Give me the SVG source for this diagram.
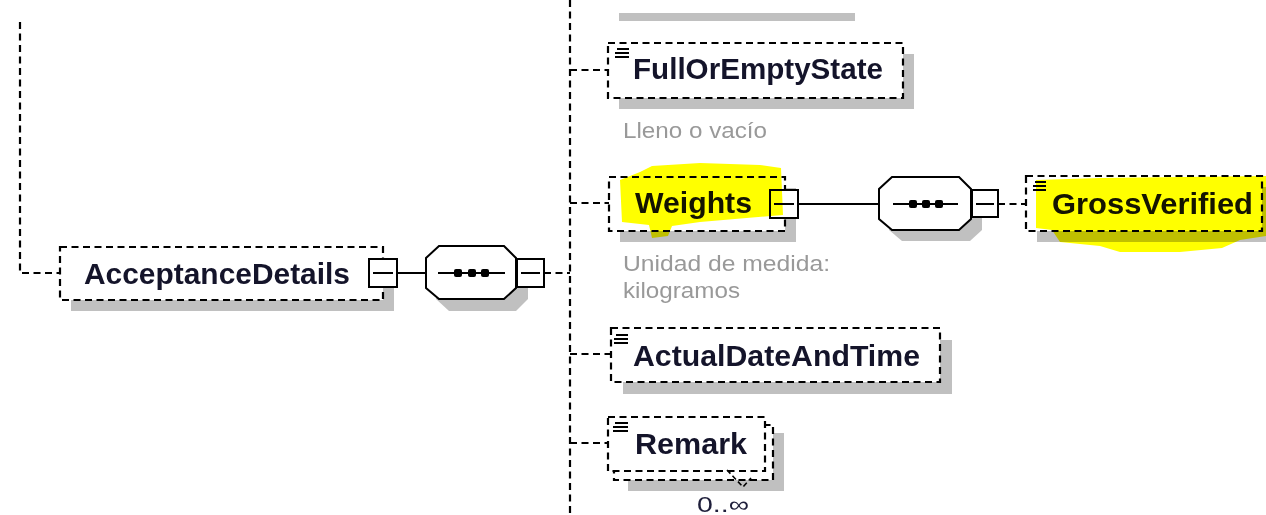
<svg xmlns="http://www.w3.org/2000/svg" width="1266" height="515" viewBox="0 0 1266 515">
<style>
.bg{fill:#ffffff}
.dash{fill:none;stroke:#000;stroke-width:2.2;stroke-dasharray:7 4.5}
.box{fill:#ffffff;stroke:#000;stroke-width:2.2;stroke-dasharray:7 4.5}
.shadow{fill:#c0c0c0}
.solid{fill:none;stroke:#000;stroke-width:2}
.pm{fill:#ffffff;stroke:#000;stroke-width:2}
.oct{fill:#ffffff;stroke:#000;stroke-width:2}
.dot{fill:#000}
.icon{stroke:#000;stroke-width:1.8}
.name{font-family:"Liberation Sans",Arial,sans-serif;font-weight:bold;font-size:29.5px;fill:#14142a}
.note{font-family:"Liberation Sans",Arial,sans-serif;font-size:22px;fill:#999999}
.hl{fill:#ffff00;mix-blend-mode:multiply}
</style>
<rect class="bg" x="0" y="0" width="1266" height="515"/>

<g id="connectors">
  <path class="dash" d="M20,22 V273 H60"/>
  <path class="dash" d="M570,0 V515"/>
  <path class="solid" d="M397,273 H426"/>
  <path class="dash" d="M544,273 H570"/>
  <path class="dash" d="M570,70 H608"/>
  <path class="dash" d="M570,203 H609"/>
  <path class="dash" d="M570,354 H611"/>
  <path class="dash" d="M570,443 H608"/>
  <path class="solid" d="M798,204 H879"/>
  <path class="dash" d="M998,204 H1026"/>
</g>

<g id="prev-shadow">
  <rect class="shadow" x="619" y="13" width="236" height="8"/>
</g>

<g id="AcceptanceDetails">
  <rect class="shadow" x="71" y="258" width="323" height="53"/>
  <rect class="box" x="60" y="247" width="323" height="53"/>
  <text class="name" x="84" y="284" textLength="266" lengthAdjust="spacingAndGlyphs">AcceptanceDetails</text>
  <rect class="pm" x="369" y="259" width="28" height="28"/>
  <path class="solid" d="M373,273 H393"/>
</g>

<g id="seq1">
  <polygon class="shadow" points="449,257 516,257 528,269 528,299 516,311 449,311 436,299 436,269"/>
  <polygon class="oct" points="439,246 504,246 516,258 516,288 504,299 439,299 426,288 426,258"/>
  <path class="solid" d="M438,273 H505"/>
  <rect class="dot" x="454" y="269" width="8" height="8" rx="2"/>
  <rect class="dot" x="468" y="269" width="8" height="8" rx="2"/>
  <rect class="dot" x="481" y="269" width="8" height="8" rx="2"/>
  <rect class="pm" x="517" y="259" width="27" height="28"/>
  <path class="solid" d="M521,273 H540"/>
</g>

<g id="FullOrEmptyState">
  <rect class="shadow" x="619" y="54" width="295" height="55"/>
  <rect class="box" x="608" y="43" width="295" height="55"/>
  <path class="icon" d="M617,49 H629 M615,53 H629 M615,57 H629"/>
  <text class="name" x="633" y="79" textLength="250" lengthAdjust="spacingAndGlyphs">FullOrEmptyState</text>
  <text class="note" x="623" y="138" textLength="144" lengthAdjust="spacingAndGlyphs">Lleno o vacío</text>
</g>

<g id="Weights">
  <rect class="shadow" x="620" y="188" width="176" height="54"/>
  <rect class="box" x="609" y="177" width="176" height="54"/>
  <text class="name" x="635" y="213" textLength="117" lengthAdjust="spacingAndGlyphs">Weights</text>
  <rect class="pm" x="770" y="190" width="28" height="28"/>
  <path class="solid" d="M774,204 H794"/>
  <text class="note" x="623" y="271" textLength="207" lengthAdjust="spacingAndGlyphs">Unidad de medida:</text>
  <text class="note" x="623" y="298" textLength="117" lengthAdjust="spacingAndGlyphs">kilogramos</text>
</g>

<g id="seq2">
  <polygon class="shadow" points="902,188 970,188 982,200 982,230 970,241 902,241 889,230 889,200"/>
  <polygon class="oct" points="892,177 959,177 971,189 971,219 959,230 892,230 879,219 879,189"/>
  <path class="solid" d="M893,204 H958"/>
  <rect class="dot" x="909" y="200" width="8" height="8" rx="2"/>
  <rect class="dot" x="922" y="200" width="8" height="8" rx="2"/>
  <rect class="dot" x="935" y="200" width="8" height="8" rx="2"/>
  <rect class="pm" x="972" y="190" width="26" height="27"/>
  <path class="solid" d="M976,204 H994"/>
</g>

<g id="GrossVerified">
  <rect class="shadow" x="1037" y="187" width="236" height="55"/>
  <rect class="box" x="1026" y="176" width="236" height="55"/>
  <path class="icon" d="M1035,182 H1046 M1033,186 H1046 M1033,190 H1046"/>
  <text class="name" x="1052" y="214" textLength="201" lengthAdjust="spacingAndGlyphs">GrossVerified</text>
</g>

<g id="ActualDateAndTime">
  <rect class="shadow" x="623" y="340" width="329" height="54"/>
  <rect class="box" x="611" y="328" width="329" height="54"/>
  <path class="icon" d="M616,335 H628 M614,339 H628 M614,343 H628"/>
  <text class="name" x="633" y="366" textLength="287" lengthAdjust="spacingAndGlyphs">ActualDateAndTime</text>
</g>

<g id="Remark">
  <rect class="shadow" x="628" y="433" width="156" height="58"/>
  <rect class="box" x="614" y="425" width="159" height="55"/>
  <rect class="box" x="608" y="417" width="157" height="54"/>
  <path class="icon" d="M615,423 H628 M613,427 H628 M613,431 H628"/>
  <text class="name" x="635" y="454" textLength="112" lengthAdjust="spacingAndGlyphs">Remark</text>
  <path class="dash" d="M727,470 L743,487 L751,478" style="stroke-dasharray:5 3;stroke-width:1.6"/>
  <text class="note" x="697" y="512" style="fill:#1e1e3a" textLength="52" lengthAdjust="spacingAndGlyphs">0..∞</text>
</g>

<g id="highlights">
  <path class="hl" d="M620,180 L640,172 L652,166 L700,163 L760,165 L781,168 L783,215 L700,222 L672,226 L668,236 L652,238 L649,225 L622,222 Z"/>
  <path class="hl" d="M1036,180 L1100,178 L1266,176 L1266,236 L1240,240 L1222,248 L1180,252 L1120,252 L1100,246 L1060,242 L1052,230 L1036,228 Z"/>
</g>
</svg>
